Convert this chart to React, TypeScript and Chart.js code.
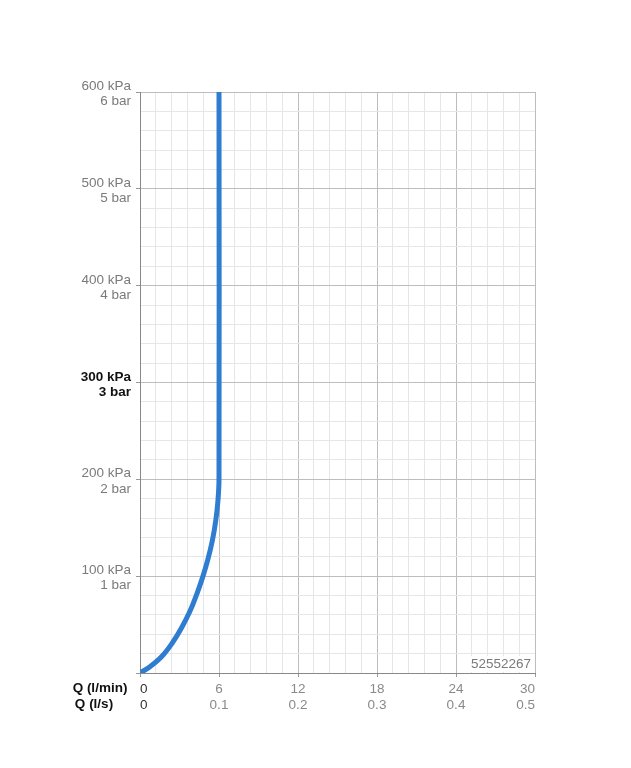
import React, { useEffect, useRef } from "react";
import { Chart, registerables } from "chart.js";

Chart.register(...registerables);

// Flow rate Q (l/min) and pressure (kPa) along the curve
const flowLpm = [0, 0.76, 1.65, 2.45, 3.17, 3.8, 4.3, 4.76, 5.15, 5.5, 5.76, 5.92, 6.0, 6.0];
const pressureKpa = [0, 6.5, 17, 31, 47, 64, 81, 99, 117, 137, 158, 178, 200, 600];

// Tick labels
const xTickLpm = ["0", "6", "12", "18", "24", "30"];
const xTickLps = ["0", "0.1", "0.2", "0.3", "0.4", "0.5"];
const yTickKpa = ["", "100 kPa", "200 kPa", "300 kPa", "400 kPa", "500 kPa", "600 kPa"];
const yTickBar = ["", "1 bar", "2 bar", "3 bar", "4 bar", "5 bar", "6 bar"];
const xAxisTitles = ["Q (l/min)", "Q (l/s)"];
const productCode = "52552267";

const FONT = '"Liberation Sans", Arial, Helvetica, sans-serif';

const isMult = (v: number, step: number) => Math.abs(v / step - Math.round(v / step)) < 1e-6;

const overlayPlugin = {
  id: "overlay",
  afterDraw(chart: any) {
    const { ctx, chartArea } = chart;
    ctx.save();
    // product code box
    ctx.font = `13.5px ${FONT}`;
    const w = ctx.measureText(productCode).width;
    const right = chartArea.right - 4;
    const cy = chartArea.bottom - 9;
    ctx.fillStyle = "rgba(255,255,255,0.9)";
    ctx.fillRect(right - w - 3, cy - 8, w + 6, 16);
    ctx.fillStyle = "#7a7a7a";
    ctx.textAlign = "right";
    ctx.textBaseline = "middle";
    ctx.fillText(productCode, right, cy);
    // axis row titles
    ctx.font = `bold 13.5px ${FONT}`;
    ctx.fillStyle = "#111";
    ctx.textAlign = "center";
    ctx.fillText(xAxisTitles[0], 100, chartArea.bottom + 15);
    ctx.fillText(xAxisTitles[1], 94, chartArea.bottom + 31);
    ctx.restore();
  },
};

export default function App() {
  const ref = useRef<HTMLCanvasElement>(null);

  useEffect(() => {
    if (!ref.current) return;
    const data = flowLpm.map((x, i) => ({ x, y: pressureKpa[i] }));
    const chart = new Chart(ref.current, {
      type: "line",
      data: {
        datasets: [
          {
            data,
            borderColor: "#2f7dd1",
            borderWidth: 5,
            pointRadius: 0,
            tension: 0.4,
            fill: false,
          },
        ],
      },
      options: {
        animation: false,
        responsive: false,
        layout: { padding: { top: 92, right: 96, left: 0, bottom: 0 } },
        plugins: { legend: { display: false }, tooltip: { enabled: false } },
        scales: {
          x: {
            type: "linear",
            min: 0,
            max: 30,
            afterFit: (s: any) => {
              s.height = 95;
            },
            border: { color: "#888", width: 1 },
            grid: {
              color: (c: any) => (isMult(c.tick.value, 6) ? "#bdbdbd" : "#e6e6e6"),
              tickColor: (c: any) => (isMult(c.tick.value, 6) ? "#999" : "rgba(0,0,0,0)"),
              tickLength: 4,
              lineWidth: 1,
            },
            ticks: {
              stepSize: 1.2,
              autoSkip: false,
              maxRotation: 0,
              align: "inner",
              padding: 4,
              color: (c: any) => (c.tick && c.tick.value === 0 ? "#333" : "#8a8a8a"),
              font: { family: FONT, size: 13.5, lineHeight: 1.2 },
              callback: (v: any) => {
                const n = Number(v);
                if (!isMult(n, 6)) return "";
                const i = Math.round(n / 6);
                return [xTickLpm[i], xTickLps[i]];
              },
            },
          },
          y: {
            type: "linear",
            min: 0,
            max: 600,
            afterFit: (s: any) => {
              s.width = 140;
            },
            border: { color: "#888", width: 1 },
            grid: {
              color: (c: any) => (isMult(c.tick.value, 100) ? "#bdbdbd" : "#e6e6e6"),
              tickColor: (c: any) => (isMult(c.tick.value, 100) ? "#999" : "rgba(0,0,0,0)"),
              tickLength: 4,
              lineWidth: 1,
            },
            ticks: {
              stepSize: 20,
              autoSkip: false,
              padding: 5,
              labelOffset: 2,
              color: (c: any) => (c.tick && c.tick.value === 300 ? "#111" : "#7a7a7a"),
              font: (c: any) => ({
                family: FONT,
                size: 13.5,
                lineHeight: 1.12,
                weight: c.tick && c.tick.value === 300 ? "bold" : "normal",
              }),
              callback: (v: any) => {
                const n = Number(v);
                if (!isMult(n, 100) || n === 0) return "";
                const i = Math.round(n / 100);
                return [yTickKpa[i], yTickBar[i]];
              },
            },
          },
        },
      },
      plugins: [overlayPlugin],
    } as any);
    return () => chart.destroy();
  }, []);

  return (
    <div style={{ position: "fixed", left: 0, top: 0, width: 631, height: 768, background: "#fff" }}>
      <canvas ref={ref} width={631} height={768} />
    </div>
  );
}
